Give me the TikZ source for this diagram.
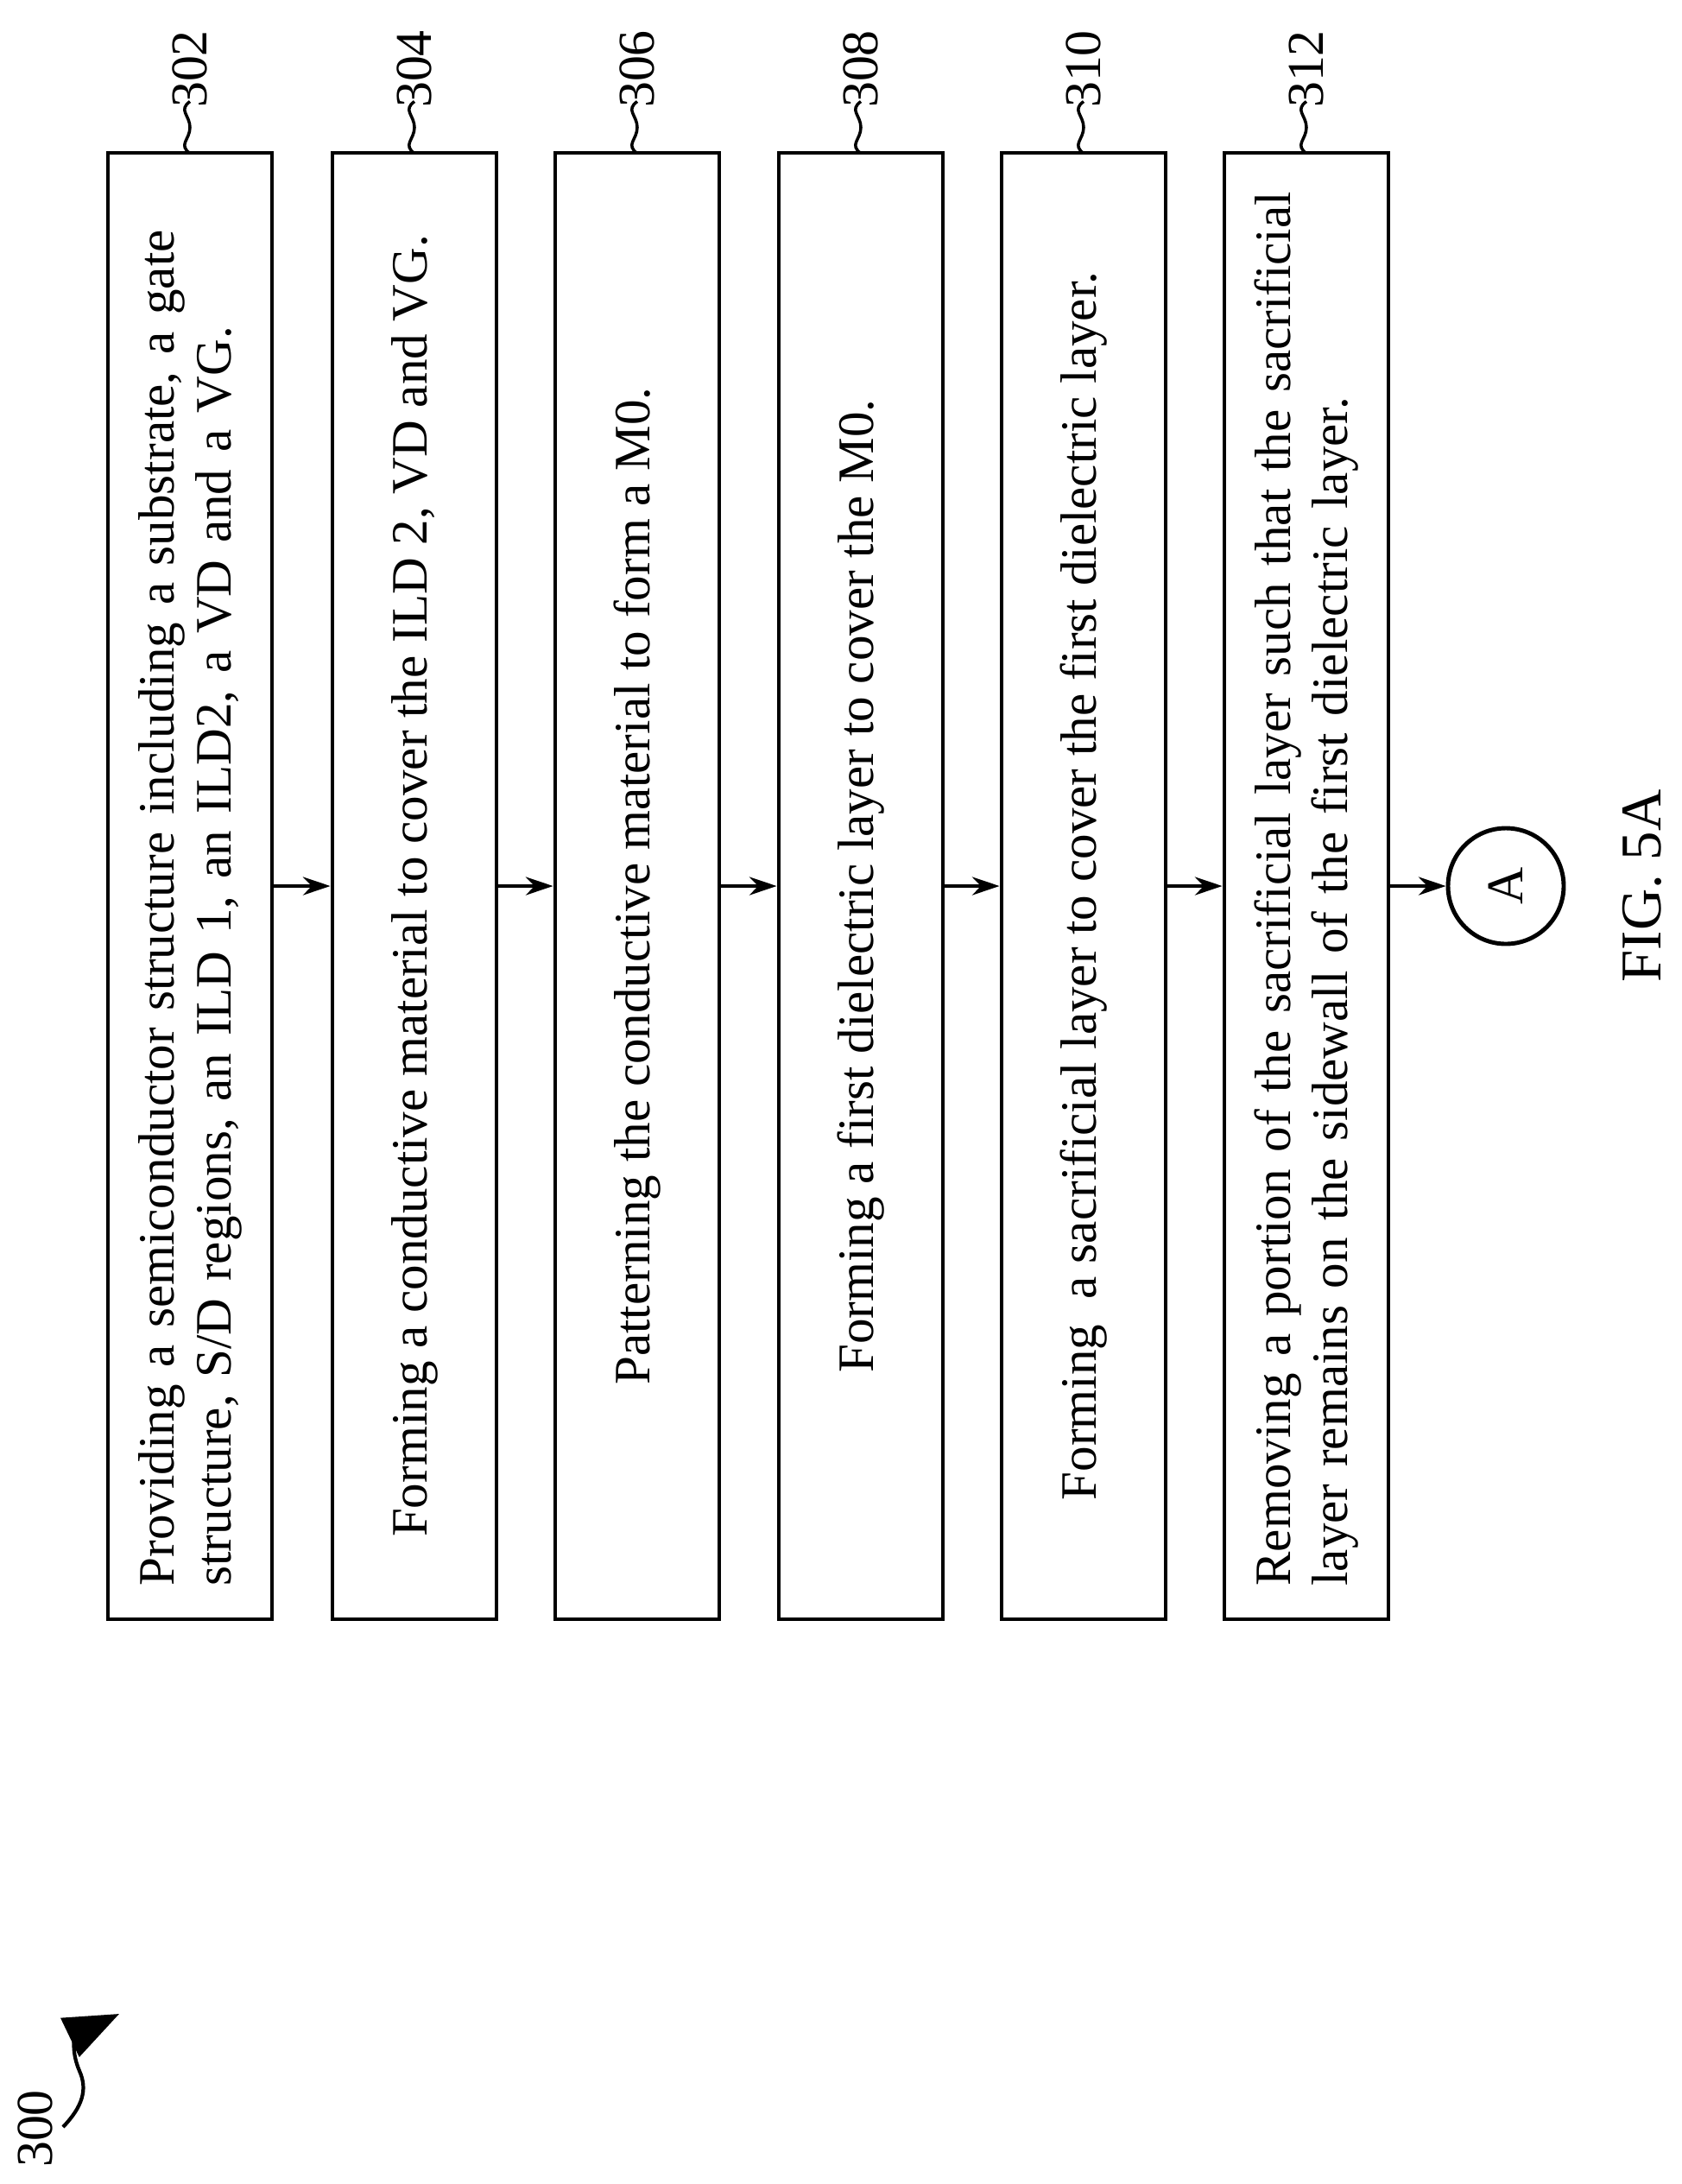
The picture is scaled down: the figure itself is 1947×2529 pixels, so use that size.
\documentclass[tikz,border=0pt]{standalone}
\usepackage{fontspec}
\setmainfont{Liberation Serif}
\usetikzlibrary{arrows.meta}
\begin{document}
\begin{tikzpicture}[x=0.01cm,y=-0.01cm,
  stepbox/.style={draw,line width=1.4pt,rotate=90,minimum width=1698*0.01cm,minimum height=190*0.01cm,inner sep=0pt,font=\fontsize{16.8}{18.8}\selectfont},
  flow/.style={line width=1.2pt,-{Stealth[length=9pt,width=6pt]}},
  sq/.style={line width=1pt},
  lbl/.style={rotate=90,font=\fontsize{17}{20}\selectfont,inner sep=0pt}]
\useasboundingbox (0,0) rectangle (1947,2529);
\node[stepbox,text width=16.2cm,align=left] (b1) at (220,1026) {\makebox[15.8cm][s]{Providing a semiconductor structure including a substrate, a gate}\\structure, S/D regions, an ILD 1, an ILD2, a VD and a VG.};
\node[stepbox,align=center] (b2) at (480,1026) {Forming a conductive material to cover the ILD 2, VD and VG.};
\node[stepbox,align=center] (b3) at (738,1026) {Patterning the conductive material to form a M0.};
\node[stepbox,align=center] (b4) at (997,1026) {Forming a first dielectric layer to cover the M0.};
\node[stepbox,align=center] (b5) at (1255,1026) {Forming\ \ a sacrificial layer to cover the first dielectric layer.};
\node[stepbox,text width=16.2cm,align=left] (b6) at (1513,1026) {Removing a portion of the sacrificial layer such that the sacrificial\\layer remains on the sidewall of the first dielectric layer.};
\node[draw,circle,line width=1.4pt,minimum size=134*0.01cm,inner sep=0pt,rotate=90,font=\fontsize{17}{20}\selectfont] (A) at (1744,1026) {A};
\node[rotate=90,font=\fontsize{19}{22}\selectfont] (fig) at (1902,1026) {FIG. 5A};
\draw[flow] (b1.south) -- (b2.north);
\draw[flow] (b2.south) -- (b3.north);
\draw[flow] (b3.south) -- (b4.north);
\draw[flow] (b4.south) -- (b5.north);
\draw[flow] (b5.south) -- (b6.north);
\draw[flow] (b6.south) -- (A.north);
\foreach \b/\n in {b1/302,b2/304,b3/306,b4/308,b5/310,b6/312}{
  \coordinate (s\n) at ([yshift=-3*0.01cm]\b.east);
  \draw[sq] (s\n) .. controls ++(-14,-10) and ++(0,14) .. ++(0,-30) .. controls ++(0,-14) and ++(-14,10) .. ++(0,-30) coordinate (e\n);
  \node[lbl,anchor=west] (l\n) at ([yshift=-8*0.01cm]e\n) {\n};
}
\node[lbl] (l300) at (41,2465) {300};
\coordinate (t300) at (138,2332);
\draw[line width=1.2pt,-{Triangle[length=18pt,width=14pt]}] (73,2463) .. controls (95,2440) and (102,2420) .. (92,2398) .. controls (80,2370) and (90,2355) .. (t300);
\end{tikzpicture}
\end{document}
